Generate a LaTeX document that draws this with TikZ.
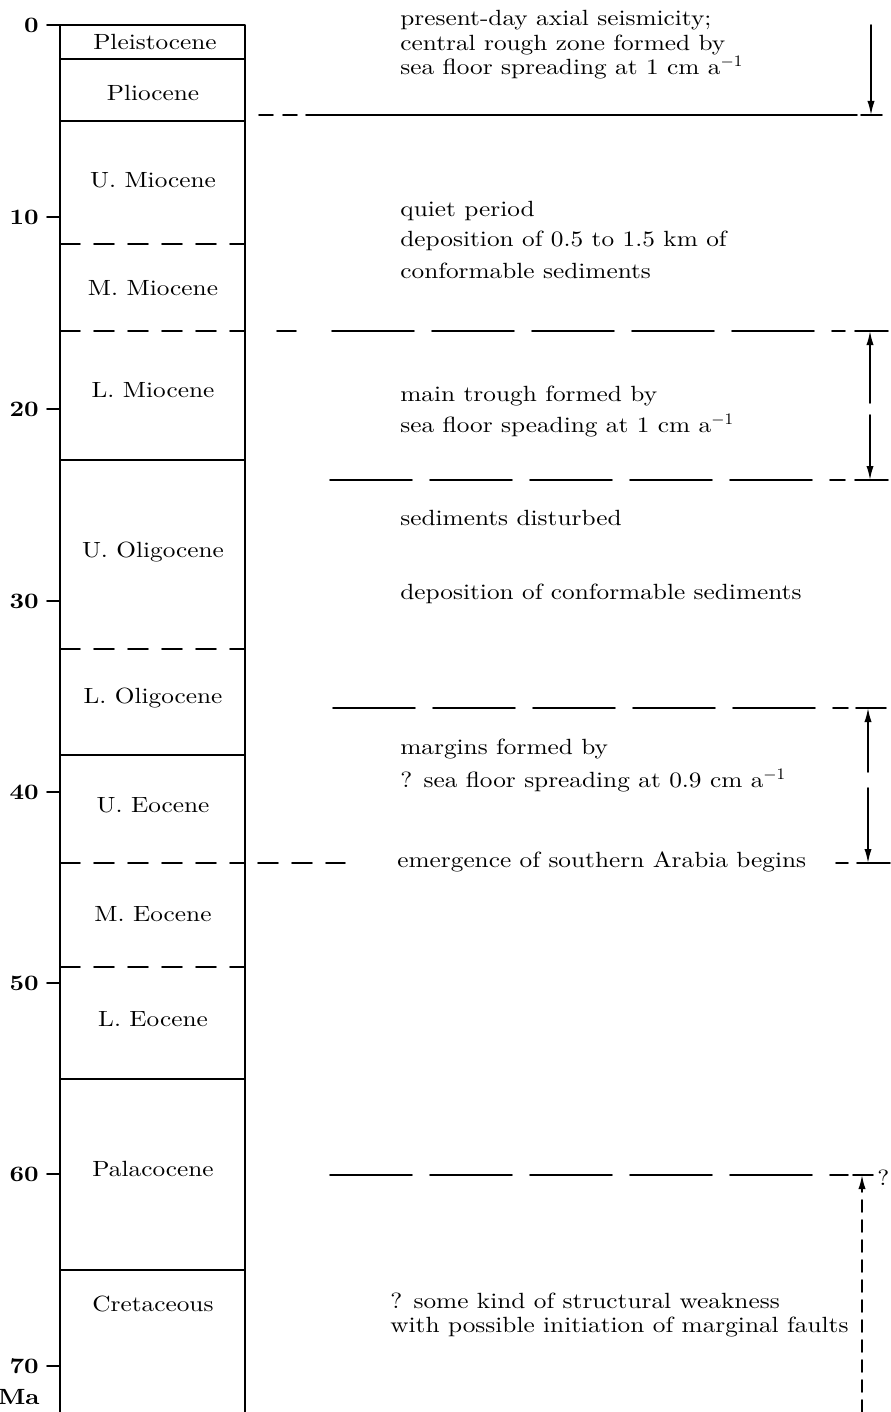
\documentclass[tikz,border=0pt]{standalone}
\usepackage{fontspec}
\setmainfont{Latin Modern Roman}[FakeStretch=1.15]
\usepackage{tikz}
\usetikzlibrary{arrows,arrows.meta}

\tikzset{
  epoch/.style={inner sep=0pt,font=\fontsize{11}{13}\selectfont},
  note/.style={anchor=west,inner sep=0pt,font=\fontsize{11}{13}\selectfont},
  age/.style={anchor=east,inner sep=0pt,font=\fontsize{11}{13}\selectfont\bfseries},
  subdash/.style={dash pattern=on 10pt off 7pt},
  eventdash/.style={dash pattern=on 41pt off 9pt},
}

\begin{document}
\begin{tikzpicture}[line cap=round,line join=round,>={Latex[length=7pt,width=3.6pt]},x=0.5pt,y=-0.5pt]
\useasboundingbox (0,0) rectangle (890,1412);
% time column
\draw [line width=1.pt] (60,1412)-- (60,25)-- (245,25)-- (245,1412);
\draw [line width=0.8pt] (60,59)-- (245,59);
\draw [line width=0.8pt] (60,121)-- (245,121);
\draw [line width=0.8pt,subdash] (60,244)-- (245,244);
\draw [line width=0.8pt,subdash] (60,331)-- (245,331);
\draw [line width=0.8pt] (60,460)-- (245,460);
\draw [line width=0.8pt,subdash] (60,649)-- (245,649);
\draw [line width=0.8pt] (60,755)-- (245,755);
\draw [line width=0.8pt,subdash] (60,863)-- (245,863);
\draw [line width=0.8pt,subdash] (60,967)-- (245,967);
\draw [line width=0.8pt] (60,1079)-- (245,1079);
\draw [line width=0.8pt] (60,1270)-- (245,1270);
\node[epoch] (pleist) at (155,42) {Pleistocene};
\node[epoch] (plio) at (153,93) {Pliocene};
\node[epoch] (umio) at (153,180) {U. Miocene};
\node[epoch] (mmio) at (153,288) {M. Miocene};
\node[epoch] (lmio) at (153,390) {L. Miocene};
\node[epoch] (uoli) at (153,552) {U. Oligocene};
\node[epoch] (loli) at (153,698) {L. Oligocene};
\node[epoch] (ueoc) at (153,805) {U. Eocene};
\node[epoch] (meoc) at (153,914) {M. Eocene};
\node[epoch] (leoc) at (153,1019) {L. Eocene};
\node[epoch] (palaeo) at (153,1169) {Palacocene};
\node[epoch] (cret) at (153,1304) {Cretaceous};
% age scale
\draw [line width=0.8pt] (47,25)-- (60,25);
\draw [line width=0.8pt] (47,217)-- (60,217);
\draw [line width=0.8pt] (47,409)-- (60,409);
\draw [line width=0.8pt] (47,601)-- (60,601);
\draw [line width=0.8pt] (47,792)-- (60,792);
\draw [line width=0.8pt] (47,983)-- (60,983);
\draw [line width=0.8pt] (47,1174)-- (60,1174);
\draw [line width=0.8pt] (47,1366)-- (60,1366);
\node[age] (a0) at (39,25) {0};
\node[age] (a10) at (39,217) {10};
\node[age] (a20) at (39,409) {20};
\node[age] (a30) at (39,601) {30};
\node[age] (a40) at (39,792) {40};
\node[age] (a50) at (39,983) {50};
\node[age] (a60) at (39,1174) {60};
\node[age] (a70) at (39,1366) {70};
\node[age] (ma) at (40,1397) {Ma};
% event lines
\draw [line width=0.8pt,dash pattern=on 7pt off 5pt] (259,115)-- (298,115);
\draw [line width=0.8pt] (306,115)-- (857,115);
\draw [line width=0.8pt] (861,115)-- (882,115);
\draw [line width=0.8pt] (277,331)-- (296,331);
\draw [line width=0.8pt,eventdash] (332,331)-- (845,331);
\draw [line width=0.8pt] (855,331)-- (888,331);
\draw [line width=0.8pt,eventdash] (330,480)-- (845,480);
\draw [line width=0.8pt] (855,480)-- (888,480);
\draw [line width=0.8pt,eventdash] (333,708)-- (848,708);
\draw [line width=0.8pt] (856,708)-- (886,708);
\draw [line width=0.8pt,subdash] (258,863)-- (345,863);
\draw [line width=0.8pt] (836,863)-- (848,863);
\draw [line width=0.8pt] (857,863)-- (890,863);
\draw [line width=0.8pt,eventdash] (330,1175)-- (848,1175);
\draw [line width=0.8pt] (853,1175)-- (873,1175);
\node[note] (qmark) at (877,1178) {?};
% durations
\coordinate (axtop) at (871,25);
\coordinate (axbot) at (871,115);
\draw [line width=0.8pt,->] (axtop)-- (axbot);
\coordinate (trtop) at (870,331);
\coordinate (trgapa) at (870,403);
\coordinate (trgapb) at (870,415);
\coordinate (trbot) at (870,480);
\draw [line width=0.8pt,->] (trgapa)-- (trtop);
\draw [line width=0.8pt,->] (trgapb)-- (trbot);
\coordinate (mgtop) at (868,708);
\coordinate (mggapa) at (868,772);
\coordinate (mggapb) at (868,788);
\coordinate (mgbot) at (868,863);
\draw [line width=0.8pt,->] (mggapa)-- (mgtop);
\draw [line width=0.8pt,->] (mggapb)-- (mgbot);
\coordinate (wktop) at (862,1175);
\coordinate (wkbot) at (862,1412);
\draw [line width=0.8pt,->,dash pattern=on 6pt off 4pt] (wkbot)-- (wktop);
% notes
\node[note] (n1) at (400,20) {present-day axial seismicity;};
\node[note] (n2) at (400,45) {central rough zone formed by};
\node[note] (n3) at (400,68) {sea floor spreading at 1 cm a$^{-1}$};
\node[note] (n4) at (400,211) {quiet period};
\node[note] (n5) at (400,241) {deposition of 0.5 to 1.5 km of};
\node[note] (n6) at (400,271) {conformable sediments};
\node[note] (n7) at (400,396) {main trough formed by};
\node[note] (n8) at (400,426) {sea floor speading at 1 cm a$^{-1}$};
\node[note] (n9) at (400,518) {sediments disturbed};
\node[note] (n10) at (400,594) {deposition of conformable sediments};
\node[note] (n11) at (400,749) {margins formed by};
\node[note] (n12) at (400,781) {? sea floor spreading at 0.9 cm a$^{-1}$};
\node[note] (n13) at (397,862) {emergence of southern Arabia begins};
\node[note] (n14) at (390,1301) {? some kind of structural weakness};
\node[note] (n15) at (390,1327) {with possible initiation of marginal faults};
\end{tikzpicture}
\end{document}
